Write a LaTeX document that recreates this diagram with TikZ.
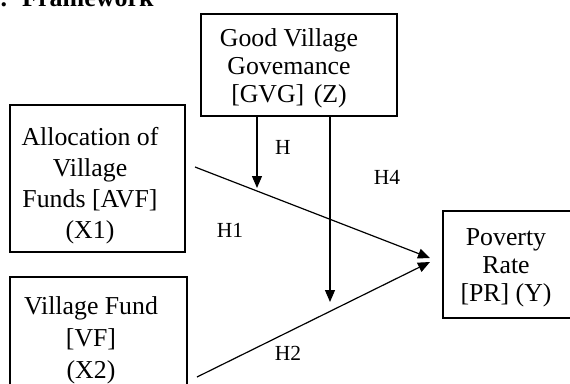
\documentclass[tikz,border=0pt]{standalone}
\usepackage{fontspec}
\setmainfont{Liberation Serif}
\usetikzlibrary{arrows.meta}
\begin{document}
\begin{tikzpicture}[x=1pt,y=-1pt,
  box/.style={draw,line width=1.2pt,inner sep=0pt},
  boxtext/.style={align=center,inner sep=0pt,anchor=north},
  lab/.style={inner sep=0pt,font=\fontsize{21.5}{24}\selectfont},
  conn/.style={line width=1.2pt,-{Triangle[length=12pt,width=10pt]}}]
\useasboundingbox (0,0) rectangle (570,383);
\node[anchor=base west,inner sep=0pt,font=\bfseries\fontsize{26}{30}\selectfont] (title) at (0.5,6) {.\hspace{15pt}Framework};
% boxes
\node[box,line width=2pt,minimum width=196pt,minimum height=102pt] (gvg) at (299,65) {};
\node[box,minimum width=175pt,minimum height=147pt] (avf) at (97.5,178.5) {};
\node[box,minimum width=177pt,minimum height=118pt] (vf) at (98.5,336) {};
\node[box,minimum width=150pt,minimum height=107pt] (pr) at (518,264.5) {};
% texts
\node[boxtext,font=\fontsize{25.8}{28}\selectfont] (gvgt) at (289,28) {Good Village\\Govemance\\{}[GVG]\hspace{3pt} (Z)};
\node[boxtext,font=\fontsize{25.8}{31}\selectfont] (avft) at (90,127) {Allocation of\\Village\\Funds [AVF]\\(X1)};
\node[boxtext,font=\fontsize{25.8}{32}\selectfont] (vft) at (91,296) {Village Fund\\{}[VF]\\(X2)};
\node[boxtext,font=\fontsize{25.8}{28}\selectfont] (prt) at (506,228.5) {Poverty\\Rate\\{}[PR] (Y)};
% connectors
\coordinate (s1) at (195,167);
\coordinate (e1) at (430,258);
\coordinate (s2) at (197,377);
\coordinate (e2) at (430,262);
\coordinate (t1) at (257,188);
\coordinate (t2) at (330,302);
\draw[conn] (s1) -- (e1);
\draw[conn] (s2) -- (e2);
\draw[conn] (gvg.south -| t1) -- (t1);
\draw[conn] (gvg.south -| t2) -- (t2);
% labels
\node[lab] (h) at (283,147) {H};
\node[lab] (h4) at (387,177) {H4};
\node[lab] (h1) at (230,230) {H1};
\node[lab] (h2) at (288,353) {H2};
\end{tikzpicture}
\end{document}
